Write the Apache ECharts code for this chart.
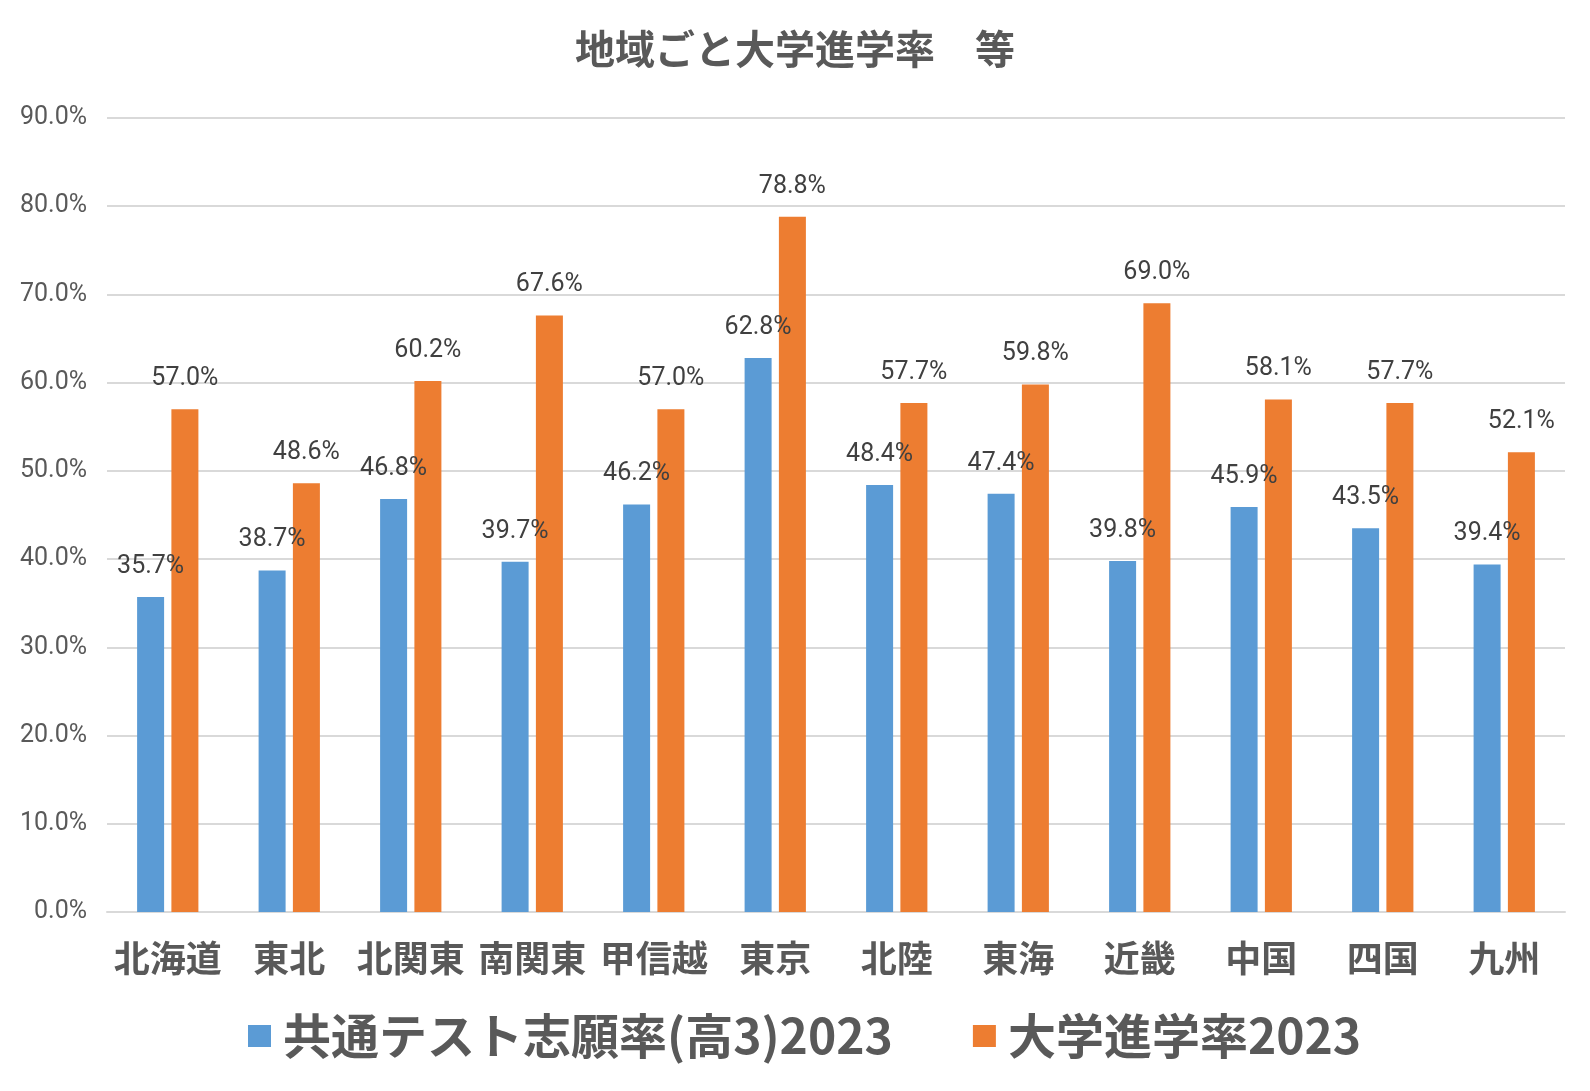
<!DOCTYPE html>
<html>
<head>
<meta charset="utf-8">
<script src="https://cdn.jsdelivr.net/npm/echarts@6/dist/echarts.min.js"></script>
<style>
html,body{margin:0;padding:0;background:#fff;}
#chart{width:1590px;height:1091px;}
</style>
</head>
<body>
<div id="chart"></div>
<script>
const categories = ['北海道','東北','北関東','南関東','甲信越','東京','北陸','東海','近畿','中国','四国','九州'];
const seriesNames = ['共通テスト志願率(高3)2023','大学進学率2023'];
const testRate = [35.7, 38.7, 46.8, 39.7, 46.2, 62.8, 48.4, 47.4, 39.8, 45.9, 43.5, 39.4];
const uniRate = [57.0, 48.6, 60.2, 67.6, 57.0, 78.8, 57.7, 59.8, 69.0, 58.1, 57.7, 52.1];
const titleText = '地域ごと大学進学率　等';

const NARROW = "Roboto,'Liberation Sans',sans-serif";
const CJK = "'Noto Sans CJK JP','Noto Sans',sans-serif";

const chart = echarts.init(document.getElementById('chart'), null, {renderer:'canvas'});
const labelCfg = {
  show: true,
  position: 'top',
  distance: 18,
  fontFamily: NARROW,
  fontSize: 25,
  color: '#404040',
  formatter: p => p.value.toFixed(1) + '%'
};
chart.setOption({
  animation: false,
  backgroundColor: '#fff',
  title: {
    text: titleText,
    left: 'center',
    top: 29,
    padding: 0,
    textStyle: {fontFamily: CJK, fontSize: 40, fontWeight: 'bold', color: '#595959'}
  },
  legend: {
    left: 248,
    top: 1012,
    padding: 0,
    itemWidth: 23,
    itemHeight: 22,
    itemGap: 80,
    icon: 'rect',
    textStyle: {fontFamily: CJK, fontSize: 48, fontWeight: 'bold', color: '#595959', padding: [0,0,0,7]},
    data: seriesNames
  },
  grid: {left: 107, right: 25, top: 118, bottom: 179, containLabel: false},
  xAxis: {
    type: 'category',
    data: categories,
    axisLine: {show: true, lineStyle: {color: '#d9d9d9', width: 2}},
    axisTick: {show: false},
    axisLabel: {fontFamily: CJK, fontSize: 36, fontWeight: 'bold', color: '#595959', margin: 28, interval: 0}
  },
  yAxis: {
    type: 'value',
    min: 0, max: 90, interval: 10,
    axisLine: {show: false},
    axisTick: {show: false},
    splitLine: {lineStyle: {color: '#d9d9d9', width: 2}},
    axisLabel: {fontFamily: NARROW, fontSize: 25, color: '#595959', margin: 20,
      formatter: v => v.toFixed(1) + '%'}
  },
  series: [
    {name: seriesNames[0], type: 'bar', data: testRate, barWidth: 27, barGap: '27%',
     itemStyle: {color: '#5B9BD5'}, label: labelCfg},
    {name: seriesNames[1], type: 'bar', data: uniRate, barWidth: 27, barGap: '27%',
     itemStyle: {color: '#ED7D31'}, label: labelCfg}
  ]
});
</script>
</body>
</html>
